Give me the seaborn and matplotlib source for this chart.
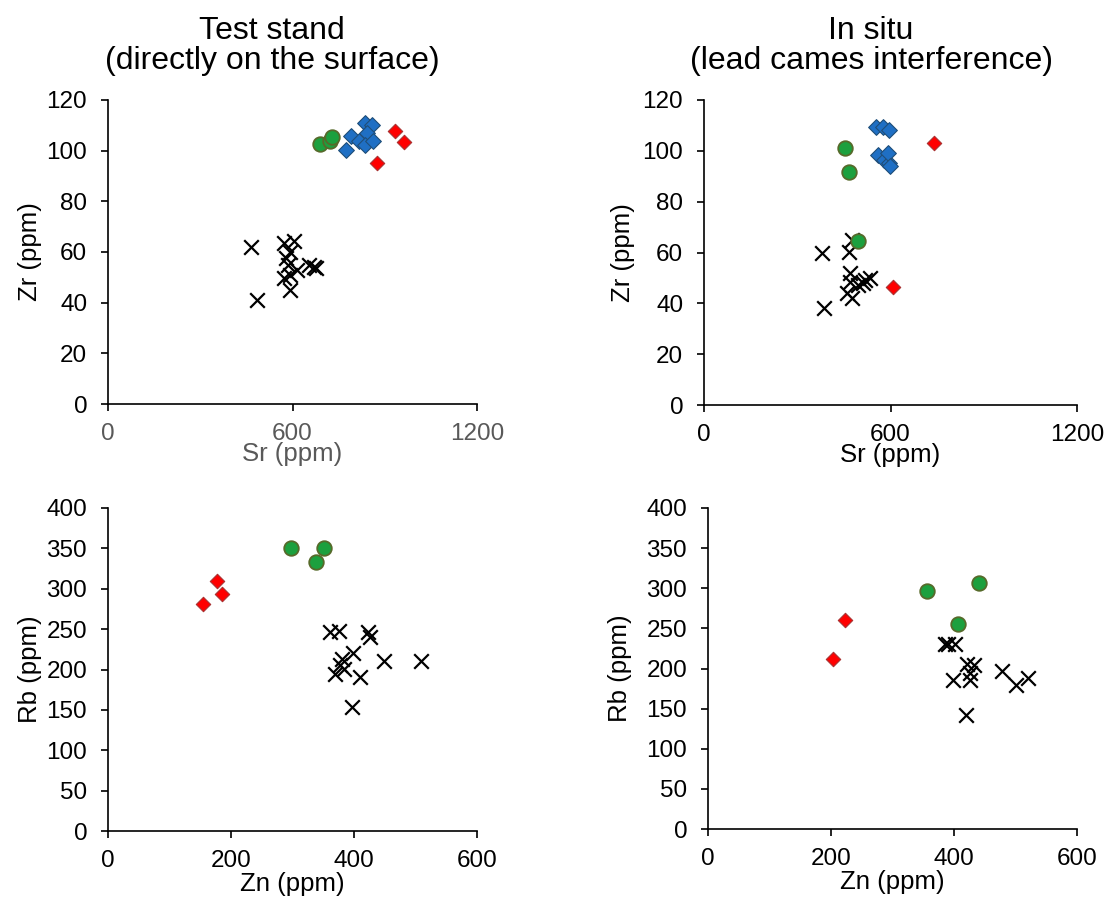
import numpy as np
import pandas as pd
import matplotlib
matplotlib.use("Agg")
import matplotlib.pyplot as plt
import seaborn as sns

sns.set_theme(style="ticks")
plt.rcParams['font.family'] = ['Liberation Sans', 'DejaVu Sans']

# ---------------- data ----------------
# Top-left: Test stand, Sr vs Zr
ts_sr_x_sr = [466, 485, 572, 604, 593, 580, 585, 615, 572, 593, 593, 653, 669, 678]
ts_sr_x_zr = [62.1, 41.1, 63.4, 64.5, 60.1, 57.5, 54.9, 52.9, 49.6, 50.9, 45.0, 54.9, 54.2, 53.6]
ts_sr_blue_sr = [775, 791, 816, 835, 860, 841, 835, 862]
ts_sr_blue_zr = [100.3, 105.8, 103.7, 110.8, 110.1, 106.9, 102.2, 103.7]
ts_sr_red_sr = [933, 963, 874]
ts_sr_red_zr = [107.9, 103.6, 95.3]
ts_sr_green_sr = [688, 721, 730]
ts_sr_green_zr = [102.6, 103.8, 105.4]

# Top-right: In situ, Sr vs Zr
is_sr_x_sr = [381, 467, 475, 470, 470, 518, 513, 459, 475, 386, 534, 497]
is_sr_x_zr = [59.7, 60.3, 64.9, 51.8, 48.5, 49.2, 47.9, 43.9, 42.0, 38.0, 49.8, 47.2]
is_sr_blue_sr = [553, 576, 595, 560, 579, 595, 592, 598]
is_sr_blue_zr = [109.4, 109.4, 108.2, 98.3, 96.4, 95.2, 99.1, 94.0]
is_sr_red_sr = [740, 608]
is_sr_red_zr = [103.0, 46.4]
is_sr_green_sr = [454, 467, 495]
is_sr_green_zr = [101.1, 91.7, 64.6]

# Bottom-left: Test stand, Zn vs Rb
ts_zn_x_zn = [361, 376, 422, 426, 399, 380, 378, 369, 383, 410, 449, 509, 397]
ts_zn_x_rb = [247, 248, 246, 240, 221, 213, 206, 195, 201, 191, 210, 210, 154]
ts_zn_red_zn = [177, 186, 155]
ts_zn_red_rb = [309, 294, 281]
ts_zn_green_zn = [297, 352, 338]
ts_zn_green_rb = [350, 351, 333]

# Bottom-right: In situ, Zn vs Rb
is_zn_x_zn = [391, 402, 385, 421, 432, 426, 399, 426, 478, 501, 521, 419]
is_zn_x_rb = [231, 230, 231, 206, 204, 194, 186, 186, 197, 179, 188, 142]
is_zn_red_zn = [222, 203]
is_zn_red_rb = [261, 212]
is_zn_green_zn = [356, 406, 441]
is_zn_green_rb = [297, 255, 307]

titles = ["Test stand\n(directly on the surface)", "In situ\n(lead cames interference)"]
sr_ticks = [0, 600, 1200]
zr_ticks = [0, 20, 40, 60, 80, 100, 120]
zn_ticks = [0, 200, 400, 600]
rb_ticks = [0, 50, 100, 150, 200, 250, 300, 350, 400]

BLUE, BLUE_E = "#1f6fc4", "#1f4e79"
RED, RED_E = "#ff0000", "#a83232"
GREEN, GREEN_E = "#1ca03e", "#566a2a"

W, H = 1118, 901
fig = plt.figure(figsize=(W / 100, H / 100), dpi=100)

def px_axes(l, r, t, b):
    return fig.add_axes([l / W, 1 - b / H, (r - l) / W, (b - t) / H])

ax_tl = px_axes(108, 477, 100, 404)
ax_tr = px_axes(704, 1077, 100, 405)
ax_bl = px_axes(108, 477, 508, 831)
ax_br = px_axes(708, 1077, 508, 829)

def draw(ax, xs, ys, blue=None, red=None, green=None):
    sns.scatterplot(x=xs, y=ys, ax=ax, marker="x", color="black", s=110,
                    linewidth=1.6, zorder=3)
    if blue is not None:
        sns.scatterplot(x=blue[0], y=blue[1], ax=ax, marker="D", color=BLUE,
                        edgecolor=BLUE_E, linewidth=0.8, s=64, zorder=4)
    if red is not None:
        sns.scatterplot(x=red[0], y=red[1], ax=ax, marker="D", color=RED,
                        edgecolor=RED_E, linewidth=0.8, s=54, zorder=5)
    if green is not None:
        sns.scatterplot(x=green[0], y=green[1], ax=ax, marker="o", color=GREEN,
                        edgecolor=GREEN_E, linewidth=1.3, s=110, zorder=6)

draw(ax_tl, ts_sr_x_sr, ts_sr_x_zr, (ts_sr_blue_sr, ts_sr_blue_zr),
     (ts_sr_red_sr, ts_sr_red_zr), (ts_sr_green_sr, ts_sr_green_zr))
draw(ax_tr, is_sr_x_sr, is_sr_x_zr, (is_sr_blue_sr, is_sr_blue_zr),
     (is_sr_red_sr, is_sr_red_zr), (is_sr_green_sr, is_sr_green_zr))
draw(ax_bl, ts_zn_x_zn, ts_zn_x_rb, None,
     (ts_zn_red_zn, ts_zn_red_rb), (ts_zn_green_zn, ts_zn_green_rb))
draw(ax_br, is_zn_x_zn, is_zn_x_rb, None,
     (is_zn_red_zn, is_zn_red_rb), (is_zn_green_zn, is_zn_green_rb))

TICK_FS = 17.5
LAB_FS = 18.5

def style(ax, xt, yt, xl, yl, xlab_y, ylab_x, xcolor="black"):
    ax.set_xlim(xt[0], xt[-1])
    ax.set_ylim(yt[0], yt[-1])
    ax.set_xticks(xt)
    ax.set_yticks(yt)
    ax.set_xticklabels([str(v) for v in xt])
    ax.set_yticklabels([str(v) for v in yt])
    for s in ["top", "right"]:
        ax.spines[s].set_visible(False)
    for s in ["left", "bottom"]:
        ax.spines[s].set_color("black")
        ax.spines[s].set_linewidth(1.2)
    ax.tick_params(axis="both", direction="out", length=5, width=1.2,
                   color="black", labelsize=TICK_FS)
    ax.tick_params(axis="x", pad=9, labelcolor=xcolor)
    ax.tick_params(axis="y", pad=10, labelcolor="black")
    ax.set_xlabel(xl, fontsize=LAB_FS, color=xcolor)
    ax.set_ylabel(yl, fontsize=LAB_FS, color="black")
    ax.xaxis.set_label_coords(0.5, xlab_y)
    ax.yaxis.set_label_coords(ylab_x, 0.5)
    ax.grid(False)
    ax.set_facecolor("white")
    for c in ax.collections:
        c.set_clip_on(False)

style(ax_tl, sr_ticks, zr_ticks, "Sr (ppm)", "Zr (ppm)", -0.125, -0.179, xcolor="#595959")
style(ax_tr, sr_ticks, zr_ticks, "Sr (ppm)", "Zr (ppm)", -0.125, -0.185)
style(ax_bl, zn_ticks, rb_ticks, "Zn (ppm)", "Rb (ppm)", -0.127, -0.179)
style(ax_br, zn_ticks, rb_ticks, "Zn (ppm)", "Rb (ppm)", -0.127, -0.205)

fig.text(272 / W, 1 - 16 / H, titles[0], ha="center", va="top", fontsize=23,
         linespacing=1.0, color="black")
fig.text(871 / W, 1 - 16 / H, titles[1], ha="center", va="top", fontsize=23,
         linespacing=1.0, color="black")

fig.savefig("out.png", dpi=100, facecolor="white")
